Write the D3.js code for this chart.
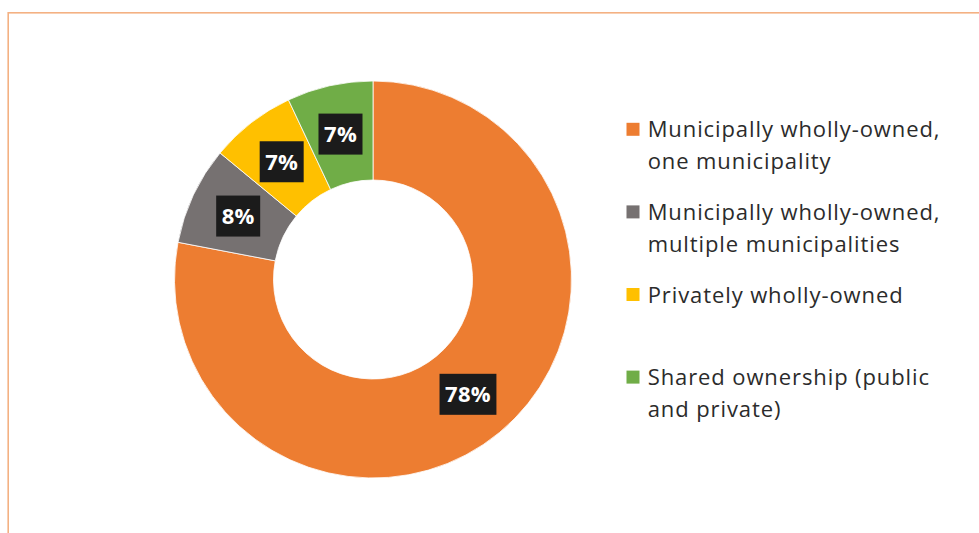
<!DOCTYPE html>
<html>
<head>
<meta charset="utf-8">
<script src="https://cdn.jsdelivr.net/npm/d3@7"></script>
<style>
  html, body { margin: 0; padding: 0; background: #fff; }
  svg { display: block; }
</style>
</head>
<body>
<svg id="chart" width="979" height="533"></svg>
<script>
// Ownership categories, shares (%) and slice colours
const categories = [
  "Municipally wholly-owned, one municipality",
  "Municipally wholly-owned, multiple municipalities",
  "Privately wholly-owned",
  "Shared ownership (public and private)"
];
const shares = [78, 8, 7, 7];
const colors = ["#ED7D31", "#767171", "#FFC000", "#70AD47"];
// Legend text, wrapped the way it is shown
const legendLines = [
  ["Municipally wholly-owned,", "one municipality"],
  ["Municipally wholly-owned,", "multiple municipalities"],
  ["Privately wholly-owned"],
  ["Shared ownership (public", "and private)"]
];

const svg = d3.select("#chart");

// Chart-area frame
svg.append("rect")
  .attr("x", 8.2).attr("y", 12.8)
  .attr("width", 1100).attr("height", 600)
  .attr("fill", "none")
  .attr("stroke", "#F4B183")
  .attr("stroke-width", 1.6);

const cx = 373, cy = 279.5;
const outerR = 198.5, innerR = 99.5;

const data = categories.map((c, i) => ({ name: c, value: shares[i], color: colors[i] }));

const pie = d3.pie().sort(null).value(d => d.value);
const arc = d3.arc().innerRadius(innerR).outerRadius(outerR);
const labelArc = d3.arc().innerRadius((innerR + outerR) / 2).outerRadius((innerR + outerR) / 2);

const g = svg.append("g").attr("transform", `translate(${cx},${cy})`);

const arcs = pie(data);

g.selectAll("path.slice")
  .data(arcs)
  .join("path")
  .attr("class", "slice")
  .attr("d", arc)
  .attr("fill", d => d.data.color)
  .attr("stroke", "#ffffff")
  .attr("stroke-width", 0.8);

// Data labels: white bold percentages on dark boxes
const labels = g.selectAll("g.label")
  .data(arcs)
  .join("g")
  .attr("class", "label")
  .attr("transform", d => `translate(${labelArc.centroid(d)})`);

labels.append("rect").attr("fill", "#1b1b1b");

labels.append("text")
  .attr("text-anchor", "middle")
  .attr("dy", "0.36em")
  .attr("fill", "#ffffff")
  .style("font-family", "'Open Sans', sans-serif")
  .style("font-weight", "700")
  .style("font-size", "22px")
  .style("letter-spacing", "0.3px")
  .text(d => `${d.data.value}%`);

labels.each(function () {
  const t = d3.select(this).select("text").node();
  const w = t.getComputedTextLength();
  d3.select(this).select("rect")
    .attr("x", -(w + 11) / 2)
    .attr("y", -20.5)
    .attr("width", w + 11)
    .attr("height", 41);
});

// Legend
const legendX = 626.5, textX = 647.7;
const firstBaseline = 137.3, entryStep = 82.6, lineStep = 32;

const legend = svg.append("g").attr("class", "legend");

const items = legend.selectAll("g.item")
  .data(data)
  .join("g")
  .attr("class", "item")
  .attr("transform", (d, i) => `translate(0,${firstBaseline + i * entryStep})`);

items.append("rect")
  .attr("x", legendX)
  .attr("y", -14.5)
  .attr("width", 13)
  .attr("height", 13)
  .attr("fill", d => d.color);

items.append("text")
  .attr("x", textX)
  .attr("fill", "#2b2b2b")
  .style("font-family", "'Open Sans', sans-serif")
  .style("font-size", "22px")
  .style("letter-spacing", "0.9px")
  .selectAll("tspan")
  .data((d, i) => legendLines[i])
  .join("tspan")
  .attr("x", textX)
  .attr("y", (d, j) => j * lineStep)
  .text(d => d);
</script>
</body>
</html>
